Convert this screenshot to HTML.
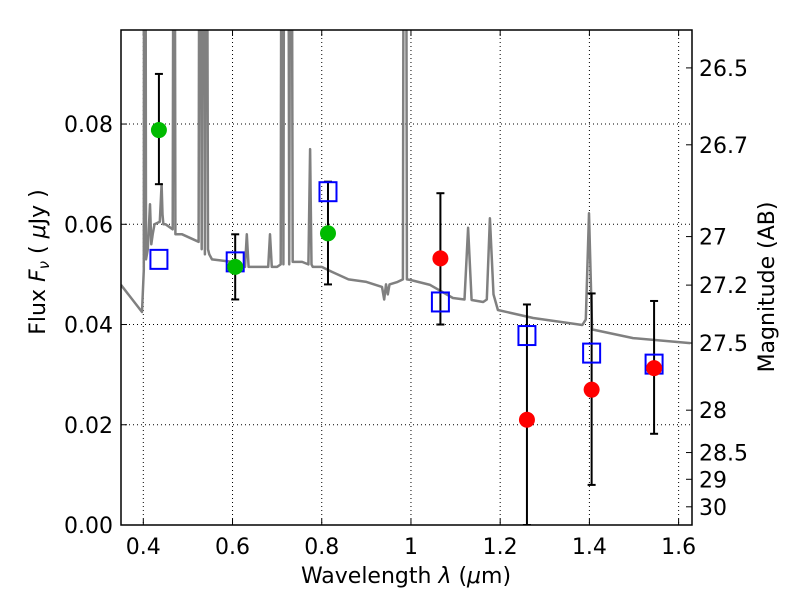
<!DOCTYPE html>
<html><head><meta charset="utf-8"><style>
body{margin:0;background:#fff}
svg{display:block;font-family:"DejaVu Sans","Liberation Sans",sans-serif}
</style></head><body>
<svg id="c" width="800" height="600"></svg>
<script>
const specW=[0.35,0.397,0.401,0.402,0.404,0.406,0.41,0.415,0.418,0.421,0.425,0.437,0.441,0.443,0.445,0.45,0.466,0.469,0.472,0.475,0.487,0.524,0.527,0.531,0.535,0.538,0.541,0.545,0.548,0.554,0.60,0.628,0.632,0.636,0.645,0.680,0.684,0.688,0.70,0.708,0.711,0.714,0.717,0.724,0.727,0.731,0.735,0.756,0.770,0.774,0.777,0.780,0.80,0.823,0.86,0.90,0.935,0.940,0.944,0.948,0.952,0.97,0.982,0.985,0.988,0.991,0.998,1.043,1.094,1.120,1.128,1.136,1.162,1.170,1.177,1.185,1.195,1.274,1.384,1.392,1.399,1.406,1.412,1.498,1.626];
const specF=[0.0479,0.0425,0.0509,0.2,0.2,0.053,0.055,0.064,0.056,0.058,0.060,0.0605,0.068,0.062,0.060,0.060,0.059,0.2,0.058,0.058,0.058,0.0565,0.2,0.055,0.2,0.054,0.2,0.055,0.054,0.053,0.0525,0.0515,0.058,0.0515,0.0515,0.0515,0.058,0.0515,0.0515,0.052,0.2,0.052,0.2,0.2,0.052,0.2,0.0525,0.0525,0.052,0.075,0.052,0.0515,0.0515,0.0505,0.049,0.0485,0.0475,0.045,0.048,0.046,0.048,0.0485,0.049,0.2,0.2,0.049,0.0489,0.0479,0.0453,0.045,0.0593,0.0449,0.0445,0.045,0.0612,0.046,0.0429,0.0413,0.0399,0.041,0.0622,0.039,0.0389,0.0373,0.0363];
const obsW=[0.435,0.606,0.814,1.066,1.26,1.405,1.545];
const obsF=[0.0788,0.0515,0.0582,0.0532,0.021,0.027,0.0313];
const errHi=[0.090,0.058,0.0685,0.0662,0.044,0.0462,0.0447];
const errLo=[0.068,0.045,0.048,0.040,0.0,0.008,0.0182];
const obsColor=["#00bb00","#00bb00","#00bb00","#ff0000","#ff0000","#ff0000","#ff0000"];
const modF=[0.053,0.0525,0.0665,0.0445,0.0378,0.0343,0.0321];
const xTicks=[0.4,0.6,0.8,1.0,1.2,1.4,1.6];
const xLabels=["0.4","0.6","0.8","1","1.2","1.4","1.6"];
const yTicks=[0,0.02,0.04,0.06,0.08];
const yLabels=["0.00","0.02","0.04","0.06","0.08"];
const magTicks=[26.5,26.7,27,27.2,27.5,28,28.5,29,30];
const magLabels=["26.5","26.7","27","27.2","27.5","28","28.5","29","30"];

const L=121,R=692,T=30,B=525,XMIN=0.35,XMAX=1.63,YMIN=0,YMAX=(525-30)/5012;
const sx=w=>L+(w-XMIN)/(XMAX-XMIN)*(R-L);
const sy=f=>B-(f-YMIN)/(YMAX-YMIN)*(B-T);
const NS="http://www.w3.org/2000/svg",svg=document.getElementById('c');
function mk(t,a,p){const e=document.createElementNS(NS,t);for(const k in a)e.setAttribute(k,a[k]);(p||svg).appendChild(e);return e;}
const defs=mk('defs',{});const cp=mk('clipPath',{id:'cp'},defs);mk('rect',{x:L,y:T,width:R-L,height:B-T},cp);
xTicks.forEach((v,i)=>{const g=mk('line',{x1:sx(v),x2:sx(v),y1:T,y2:B,stroke:'#000','stroke-dasharray':'1,3','stroke-width':1});


const t=mk('text',{x:sx(v),y:554,'font-size':22,'text-anchor':'middle'});t.textContent=xLabels[i];


mk('line',{x1:sx(v),x2:sx(v),y1:B,y2:B-6,stroke:'#000'});mk('line',{x1:sx(v),x2:sx(v),y1:T,y2:T+6,stroke:'#000'});});
yTicks.forEach((v,i)=>{const g=mk('line',{x1:L,x2:R,y1:sy(v),y2:sy(v),stroke:'#000','stroke-dasharray':'1,3','stroke-width':1});


const t=mk('text',{x:113,y:sy(v)+8,'font-size':22,'text-anchor':'end'});t.textContent=yLabels[i];


mk('line',{x1:L,x2:L+6,y1:sy(v),y2:sy(v),stroke:'#000'});});
magTicks.forEach((m,i)=>{const f=Math.pow(10,(23.9-m)/2.5);const y=sy(f);
mk('line',{x1:R,x2:R-6,y1:y,y2:y,stroke:'#000'});
const t=mk('text',{x:699,y:y+8,'font-size':22});t.textContent=magLabels[i];

});
const pts=specW.map((w,i)=>sx(w).toFixed(1)+','+sy(specF[i]).toFixed(1)).join(' ');
const sp=mk('polyline',{points:pts,fill:'none',stroke:'#808080','stroke-width':2.5,'clip-path':'url(#cp)','stroke-linejoin':'round'});


obsW.forEach((w,i)=>{const x=sx(w);const g=mk('g',{'clip-path':'url(#cp)'});


mk('line',{x1:x,x2:x,y1:sy(errHi[i]),y2:sy(errLo[i]),stroke:'#000','stroke-width':2},g);
mk('line',{x1:x-4,x2:x+4,y1:sy(errHi[i]),y2:sy(errHi[i]),stroke:'#000','stroke-width':2},g);
mk('line',{x1:x-4,x2:x+4,y1:sy(errLo[i]),y2:sy(errLo[i]),stroke:'#000','stroke-width':2},g);});
obsW.forEach((w,i)=>{const s=mk('rect',{x:sx(w)-8.5,y:sy(modF[i])-9.5,width:17,height:19,fill:'none',stroke:'#0000ff','stroke-width':2});

});
obsW.forEach((w,i)=>{const c=mk('circle',{cx:sx(w),cy:sy(obsF[i]),r:8,fill:obsColor[i]});

});
const fr=mk('rect',{x:L,y:T,width:R-L,height:B-T,fill:'none',stroke:'#000','stroke-width':1.5});


let t=mk('text',{x:406,y:583,'font-size':22,'text-anchor':'middle'});t.innerHTML='Wavelength  <tspan font-style="italic">λ</tspan> (<tspan font-style="italic">μ</tspan>m)';


t=mk('text',{x:0,y:0,'font-size':22,'text-anchor':'middle',transform:'translate(45,262) rotate(-90)'});t.innerHTML='Flux  <tspan font-style="italic">F<tspan font-size="15" dy="4">ν</tspan></tspan><tspan dy="-4"> ( </tspan><tspan font-style="italic">μ</tspan>Jy )';


t=mk('text',{x:0,y:0,'font-size':22,'text-anchor':'middle',transform:'translate(774,287) rotate(-90)'});t.textContent='Magnitude (AB)';


</script>
</body></html>
